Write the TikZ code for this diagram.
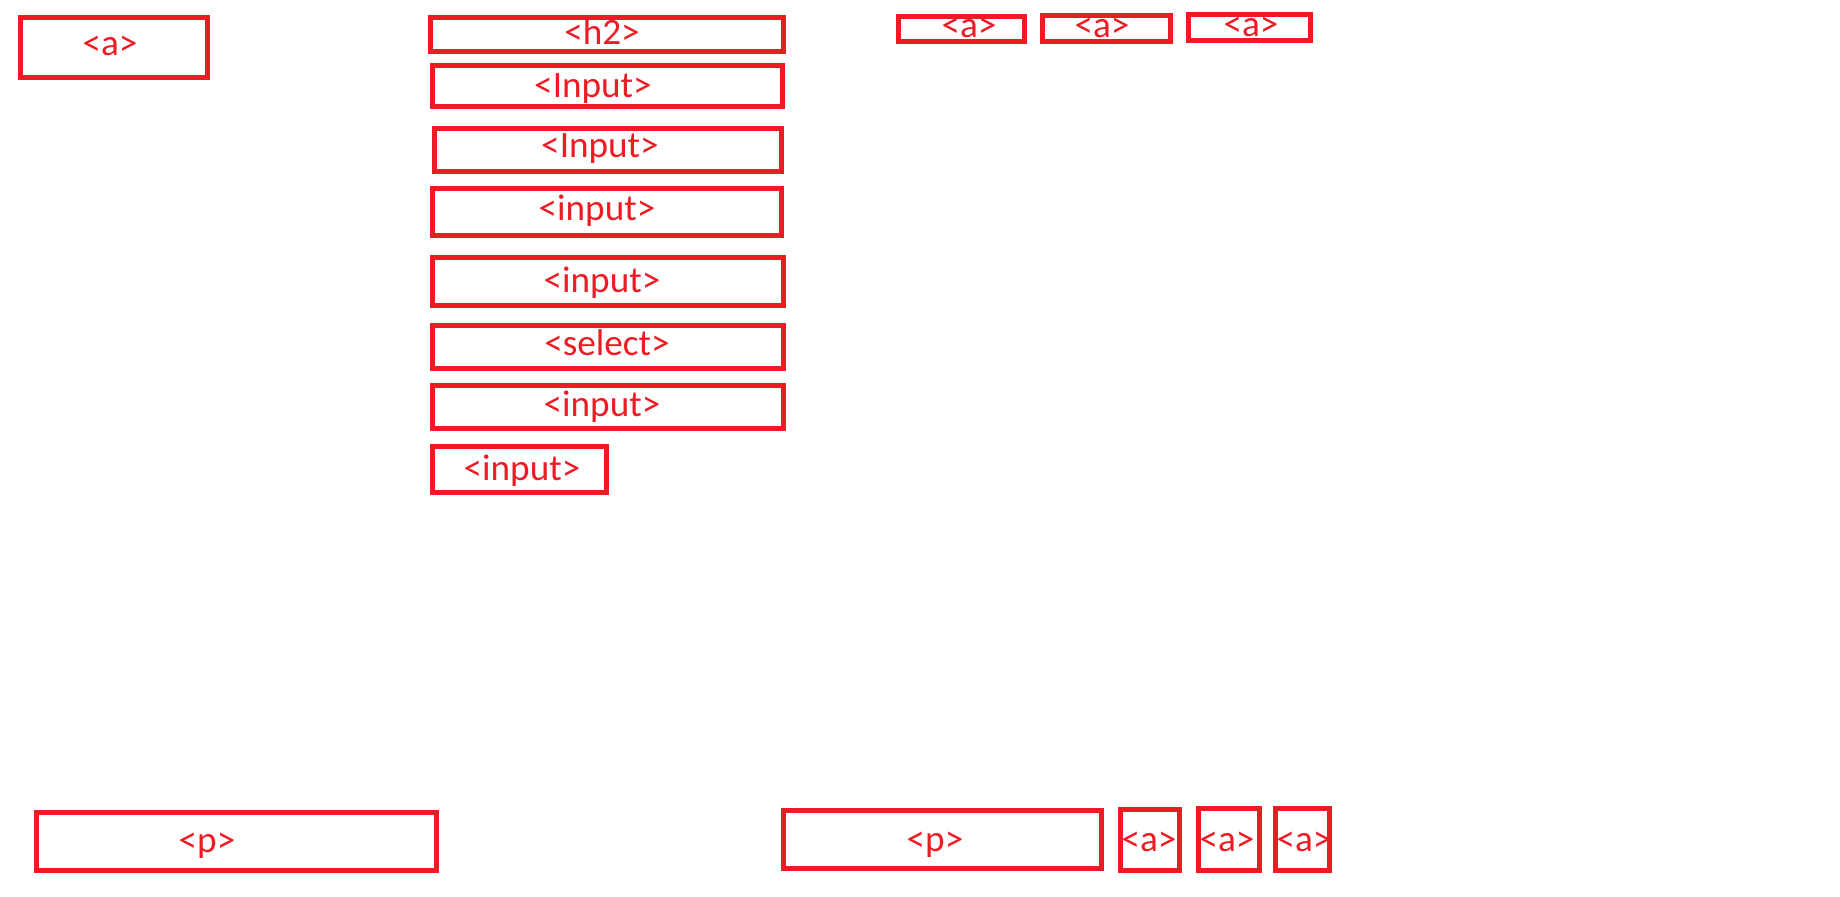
\documentclass[tikz,border=0pt]{standalone}
\usepackage{fontspec}
\setmainfont{Carlito}
\usetikzlibrary{fit}
\definecolor{pred}{HTML}{ED1C24}
\begin{document}
\begin{tikzpicture}[x=0.5pt,y=-0.5pt,
  box/.style={draw=pred,line width=2.6pt,inner sep=0pt,rectangle},
  lbl/.style={text=pred,font=\fontsize{18.6pt}{20pt}\selectfont,anchor=base,inner sep=0pt}]
\useasboundingbox (0,0) rectangle (1840,896);
% top-left link
\node[box,fit={(20.5,17.5)(207.5,77.5)}] (b1) {};
\node[lbl] (t1) at (110,55) {<a>};
% form column
\node[box,fit={(430.5,17.5)(783.5,51.5)}] (b2) {};
\node[lbl] (t2) at (602,44) {<h2>};
\node[box,fit={(432.5,65.5)(782.5,106.5)}] (b3) {};
\node[lbl] (t3) at (593,97) {<Input>};
\node[box,fit={(434.5,128.5)(781.5,171.5)}] (b4) {};
\node[lbl] (t4) at (600,157) {<Input>};
\node[box,fit={(432.5,188.5)(781.5,235.5)}] (b5) {};
\node[lbl] (t5) at (597,220) {<input>};
\node[box,fit={(432.5,257.5)(783.5,305.5)}] (b6) {};
\node[lbl] (t6) at (602,292) {<input>};
\node[box,fit={(432.5,325.5)(783.5,368.5)}] (b7) {};
\node[lbl] (t7) at (607,355) {<select>};
\node[box,fit={(432.5,385.5)(783.5,428.5)}] (b8) {};
\node[lbl] (t8) at (602,416) {<input>};
\node[box,fit={(432.5,446.5)(606.5,492.5)}] (b9) {};
\node[lbl] (t9) at (522,480) {<input>};
% top-right links
\node[box,fit={(898.5,16.5)(1024.5,41.5)}] (b10) {};
\node[lbl] (t10) at (969,37) {<a>};
\node[box,fit={(1042.5,15.5)(1170.5,41.5)}] (b11) {};
\node[lbl] (t11) at (1102,37) {<a>};
\node[box,fit={(1188.5,14.5)(1310.5,40.5)}] (b12) {};
\node[lbl] (t12) at (1251,36) {<a>};
% footer
\node[box,fit={(36.5,812.5)(436.5,870.5)}] (b13) {};
\node[lbl] (t13) at (207,852) {<p>};
\node[box,fit={(783.5,810.5)(1101.5,868.5)}] (b14) {};
\node[lbl] (t14) at (935,851) {<p>};
\node[box,fit={(1120.5,809.5)(1179.5,870.5)}] (b15) {};
\node[lbl] (t15) at (1149,851) {<a>};
\node[box,fit={(1198.5,808.5)(1259.5,870.5)}] (b16) {};
\node[lbl] (t16) at (1227,851) {<a>};
\node[box,fit={(1275.5,808.5)(1329.5,870.5)}] (b17) {};
\node[lbl] (t17) at (1304,851) {<a>};
\end{tikzpicture}
\end{document}
